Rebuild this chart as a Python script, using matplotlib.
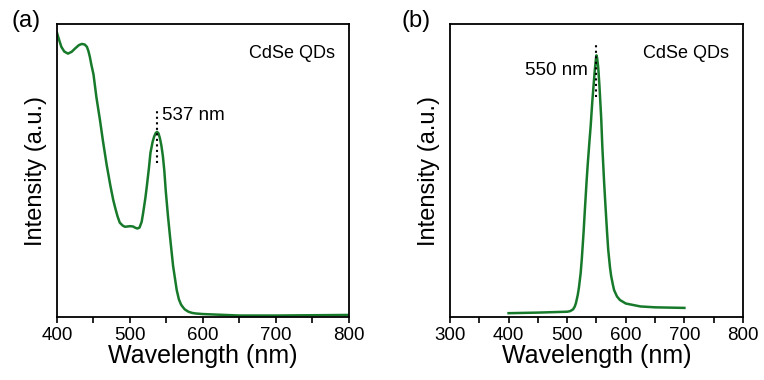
import numpy as np
import matplotlib
matplotlib.use("Agg")
from matplotlib import pyplot as plt

plt.rcParams['font.family'] = ['Liberation Sans', 'DejaVu Sans']

# absorption spectrum (a)
abs_wl = [400, 403, 406, 410, 415, 420, 425, 430, 434, 438, 441, 443, 445, 447,
          450, 454, 459, 463, 468, 473, 477, 480, 483, 486, 490, 493, 497, 500,
          504, 507, 510, 513, 516, 518, 521, 523, 526, 528, 531, 533, 535, 537,
          539, 541, 543, 545, 547, 549, 552, 555, 559, 562, 564, 567, 570, 573,
          575, 580, 585, 590, 600, 650, 700, 750, 800]
abs_int = [0.970, 0.945, 0.922, 0.906, 0.899, 0.905, 0.917, 0.928, 0.932, 0.930,
           0.922, 0.908, 0.888, 0.862, 0.828, 0.750, 0.670, 0.600, 0.520, 0.450,
           0.400, 0.370, 0.343, 0.322, 0.312, 0.308, 0.309, 0.310, 0.309, 0.305,
           0.302, 0.305, 0.325, 0.355, 0.405, 0.445, 0.510, 0.560, 0.598, 0.615,
           0.627, 0.632, 0.627, 0.610, 0.585, 0.550, 0.500, 0.430, 0.345, 0.270,
           0.175, 0.125, 0.092, 0.060, 0.042, 0.032, 0.026, 0.018, 0.014, 0.012,
           0.010, 0.005, 0.005, 0.006, 0.007]

# emission spectrum (b)
pl_wl = [400, 450, 500, 505, 510, 513, 515, 518, 520, 523, 525, 528, 530, 533,
         535, 538, 540, 543, 545, 547, 549, 550, 551, 553, 555, 558, 560, 563,
         565, 568, 570, 573, 575, 578, 580, 585, 590, 600, 625, 650, 700]
pl_int = [0.013, 0.015, 0.018, 0.020, 0.026, 0.036, 0.048, 0.075, 0.100, 0.150,
          0.200, 0.290, 0.360, 0.460, 0.520, 0.600, 0.650, 0.740, 0.790, 0.840,
          0.880, 0.893, 0.885, 0.850, 0.790, 0.680, 0.580, 0.460, 0.390, 0.290,
          0.230, 0.170, 0.140, 0.110, 0.092, 0.070, 0.058, 0.046, 0.036, 0.033,
          0.031]

abs_peak = 537
pl_peak = 550
green = '#177a2b'

fig = plt.figure(figsize=(7.64, 3.80), dpi=100)
ax1 = fig.add_axes([0.0746, 0.1658, 0.3822, 0.771])
ax2 = fig.add_axes([0.589, 0.1658, 0.3835, 0.771])


def style(ax, xlim):
    ax.set_xlim(*xlim)
    ax.set_ylim(0, 1)
    ax.set_yticks([])
    ax.set_xticks(np.arange(xlim[0], xlim[1] + 1, 100))
    ax.set_xticks(np.arange(xlim[0] + 50, xlim[1], 100), minor=True)
    ax.tick_params(axis='x', which='both', direction='out', length=4, width=1.2,
                   labelsize=13.5, pad=3)
    for s in ax.spines.values():
        s.set_linewidth(1.3)
    ax.set_xlabel("Wavelength (nm)", fontsize=18, labelpad=0)
    ax.set_ylabel("Intensity (a.u.)", fontsize=17, labelpad=7)


ax1.plot(abs_wl, abs_int, color=green, lw=1.8)
style(ax1, (400, 800))
ax1.plot([abs_peak, abs_peak], [0.526, 0.713], color='black', ls=':', lw=1.5)
ax1.text(abs_peak + 7, 0.689, "%d nm" % abs_peak, fontsize=13.5, va='center')
ax1.text(0.952, 0.90, "CdSe QDs", transform=ax1.transAxes, fontsize=13,
         ha='right', va='center')
fig.text(0.015, 0.945, "(a)", fontsize=17, va='center')

ax2.plot(pl_wl, pl_int, color=green, lw=1.8)
style(ax2, (300, 800))
ax2.plot([pl_peak, pl_peak], [0.75, 0.94], color='black', ls=':', lw=1.5)
ax2.text(pl_peak - 14, 0.843, "%d nm" % pl_peak, fontsize=13.5, va='center',
         ha='right')
ax2.text(0.952, 0.90, "CdSe QDs", transform=ax2.transAxes, fontsize=13,
         ha='right', va='center')
fig.text(0.525, 0.945, "(b)", fontsize=17, va='center')

fig.savefig("out.png", dpi=100)
